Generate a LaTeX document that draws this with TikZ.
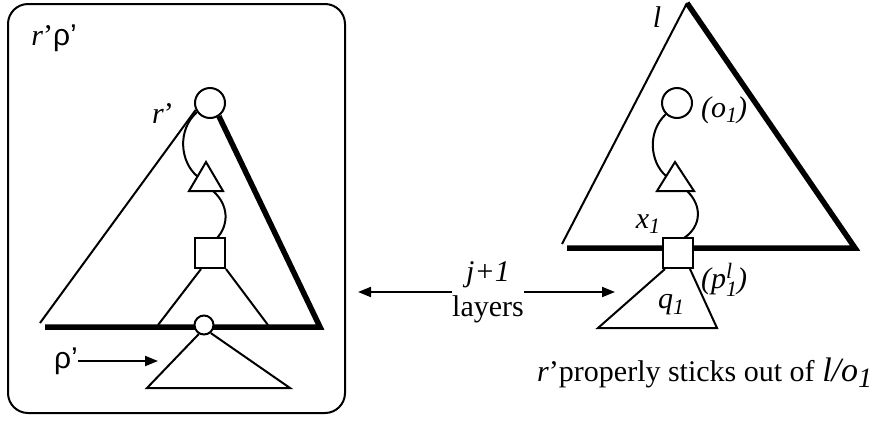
\documentclass[tikz,border=0pt]{standalone}
\usepackage{fontspec}
\setmainfont{Liberation Serif}
\newfontfamily\sansf{Liberation Sans}
\usetikzlibrary{arrows.meta}
\newcommand{\subsz}{\fontsize{22}{24}\selectfont}
\begin{document}
\begin{tikzpicture}[x=1pt,y=-1pt,
  thinl/.style={line width=2pt},
  thickl/.style={line width=5.5pt},
  vtx/.style={draw,line width=2pt,fill=white,inner sep=0pt},
  lbl/.style={inner sep=0pt,font=\fontsize{30}{35}\selectfont},
  arr/.style={line width=2pt,-{Triangle[length=13pt,width=10pt]}}]
\useasboundingbox (0,0) rectangle (878,421);
% left rounded box
\draw[line width=2pt,rounded corners=20pt] (8,4) rectangle (345,413);
\node[lbl] (boxlbl) at (54,38) {\textit{r}’{\sansf ρ’}};
% left tree
\node[vtx,circle,minimum size=30pt] (lr) at (210,103) {};
\coordinate (lbl1) at (40,323);
\coordinate (lbr) at (320,327);
\coordinate (lbb) at (45,327);
\draw[thinl] (lr.206) -- (lbl1);
\draw[thickl,line join=miter] (lr.-56) -- (lbr) -- (lbb);
\coordinate (lta) at (206,162);
\coordinate (ltl) at (189,191);
\coordinate (ltr) at (223,191);
\draw[thinl] (lta) -- (ltl) -- (ltr) -- cycle;
\node[vtx,rectangle,minimum size=30pt] (lsq) at (210,253) {};
\coordinate (ltm) at (197.5,176.5);
\coordinate (ltb) at (213,191);
\coordinate (lsqt) at (217,238);
\draw[thinl] (lr.215) .. controls (177,130) and (180,162) .. (ltm);
\draw[thinl] (ltb) .. controls (229,205) and (229,225) .. (lsqt);
\coordinate (lsl) at (158,325);
\coordinate (lsr) at (268,325);
\draw[thinl] ([xshift=7pt]lsq.south west) -- (lsl);
\draw[thinl] (lsq.south east) -- (lsr);
\node[vtx,circle,minimum size=19pt] (lsc) at (204,325) {};
\coordinate (lbtl) at (147,388);
\coordinate (lbtr) at (290,388);
\draw[thinl] (lsc.240) -- (lbtl) -- (lbtr) -- (lsc.-50);
\node[lbl] (rl) at (163,114) {\textit{r}’};
\node[lbl,font=\sansf\fontsize{30}{35}\selectfont] (rho) at (66,361) {ρ’};
\coordinate (rhoe) at (158,359);
\draw[arr] (rho.east) -- (rho.east -| rhoe);
% middle
\node[lbl,align=center] (jlay) at (488,292) {\textit{j+1}\\layers};
\coordinate (la) at (358,292);
\coordinate (ra) at (615,292);
\draw[arr] (jlay.west) -- (jlay.west -| la);
\draw[arr] (jlay.east) -- (jlay.east -| ra);
% right tree
\coordinate (rap) at (687,3);
\coordinate (rbl) at (562,244);
\coordinate (rbr) at (855,248);
\coordinate (rbb) at (567,248);
\draw[thinl] (rap) -- (rbl);
\draw[thickl,line join=miter] (rap) -- (rbr) -- (rbb);
\node[lbl] (ll) at (657,17) {\textit{l}};
\node[vtx,circle,minimum size=30pt] (rc) at (677,103) {};
\node[lbl] (o1) at (724,110) {\textit{(o\raisebox{-0.4ex}{\subsz 1})}};
\coordinate (rta) at (675,162);
\coordinate (rtl) at (657,191);
\coordinate (rtr) at (694,191);
\draw[thinl] (rta) -- (rtl) -- (rtr) -- cycle;
\node[vtx,rectangle,minimum size=30pt] (rsq) at (678,253) {};
\coordinate (rtm) at (666,176);
\coordinate (rtb) at (687,191);
\coordinate (rsqt) at (684,238);
\draw[thinl] (rc.225) .. controls (647,132) and (650,162) .. (rtm);
\draw[thinl] (rtb) .. controls (702,205) and (702,226) .. (rsqt);
\node[lbl] (x1) at (648,224) {\textit{x\raisebox{-0.4ex}{\subsz 1}}};
\coordinate (rbtl) at (598,328);
\coordinate (rbtr) at (717,328);
\draw[thinl] ([xshift=3pt]rsq.south west) -- (rbtl) -- (rbtr) -- ([xshift=-4pt]rsq.south east);
\node[lbl] (p1) at (724,280) {\textit{(p\subsz\makebox[0pt][l]{\raisebox{10pt}{l}}\raisebox{-8pt}{1}\fontsize{30}{35}\selectfont)}};
\node[lbl] (q1) at (671,305) {\textit{q\raisebox{-0.4ex}{\subsz 1}}};
% caption
\node[lbl,anchor=base west] (cap) at (537,381) {\textit{r}’properly sticks out of \textit{\fontsize{34}{38}\selectfont l/o\raisebox{-0.4ex}{\fontsize{28}{30}\selectfont 1}}};
\end{tikzpicture}
\end{document}
